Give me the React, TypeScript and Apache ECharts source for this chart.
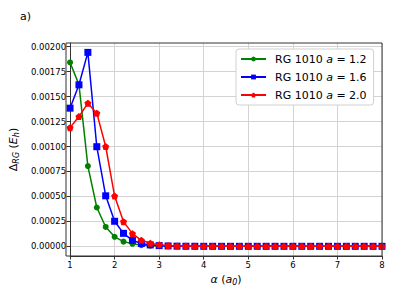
import React, { useEffect, useRef } from "react";
import * as echarts from "echarts";

const alphaValues = [
  1.0, 1.2, 1.4, 1.6, 1.8, 2.0, 2.2, 2.4, 2.6, 2.8, 3.0, 3.2, 3.4, 3.6, 3.8, 4.0, 4.2, 4.4,
  4.6, 4.8, 5.0, 5.2, 5.4, 5.6, 5.8, 6.0, 6.2, 6.4, 6.6, 6.8, 7.0, 7.2, 7.4, 7.6, 7.8, 8.0,
];

const seriesA12 = [
  0.001842, 0.00162, 0.000804, 0.000389, 0.000194, 0.000095, 0.000047, 0.000025, 0.000012,
  0.000006, 0.000003, 0.0000015, 0.0000007, 0.0000003, 0, 0, 0, 0, 0, 0, 0, 0, 0, 0, 0, 0, 0,
  0, 0, 0, 0, 0, 0, 0, 0, 0,
];

const seriesA16 = [
  0.001384, 0.001618, 0.001943, 0.000998, 0.000506, 0.000251, 0.00013, 0.00006, 0.000028,
  0.000014, 0.000007, 0.0000035, 0.0000017, 0.0000008, 0.0000004, 0, 0, 0, 0, 0, 0, 0, 0, 0, 0,
  0, 0, 0, 0, 0, 0, 0, 0, 0, 0, 0,
];

const seriesA20 = [
  0.001189, 0.0013, 0.001434, 0.001334, 0.001, 0.000503, 0.000247, 0.000127, 0.00006,
  0.00003, 0.000015, 0.000008, 0.000004, 0.000002, 0.000001, 0.0000005, 0, 0, 0, 0, 0, 0, 0, 0,
  0, 0, 0, 0, 0, 0, 0, 0, 0, 0, 0, 0,
];

const seriesNames = ["a12", "a16", "a20"];
const legendValues = ["1.2", "1.6", "2.0"];
const yTicks = [0, 0.00025, 0.0005, 0.00075, 0.001, 0.00125, 0.0015, 0.00175, 0.002];
const xTicks = [1, 2, 3, 4, 5, 6, 7, 8];

const FONT = "DejaVu Sans";
const pentagon =
  "path://M0,-1 L0.951,-0.309 L0.588,0.809 L-0.588,0.809 L-0.951,-0.309 Z";

export default function App() {
  const ref = useRef<HTMLDivElement>(null);
  useEffect(() => {
    if (!ref.current) return;
    const chart = echarts.init(ref.current, null, { renderer: "svg" });
    const mk = (vals: number[]) => alphaValues.map((x, i) => [x, vals[i]]);
    const colors = ["#008000", "#0000ff", "#ff0000"];
    const symbols = ["circle", "rect", pentagon];
    const sizes = [6, 7, 7];
    const datas = [seriesA12, seriesA16, seriesA20];
    chart.setOption({
      animation: false,
      textStyle: { fontFamily: FONT },
      grid: { left: 66, right: 12, top: 43, bottom: 40, show: false },
      title: {
        text: "a)",
        left: 20,
        top: 11,
        padding: 0,
        textStyle: { fontFamily: FONT, fontSize: 11, fontWeight: "normal", color: "#000" },
      },
      legend: {
        orient: "vertical",
        left: 236,
        top: 49,
        width: 140,
        padding: [3.5, 7, 3.5, 4],
        itemGap: 5,
        itemWidth: 25,
        itemHeight: 6,
        backgroundColor: "#fff",
        borderColor: "#d0d0d0",
        borderWidth: 1,
        borderRadius: 3,
        data: seriesNames,
        formatter: (name: string) => {
          const i = seriesNames.indexOf(name);
          return "RG 1010 {i|a} = " + legendValues[i];
        },
        textStyle: {
          fontFamily: FONT,
          fontSize: 11,
          lineHeight: 13,
          color: "#000",
          padding: [0, 0, 0, 4],
          rich: {
            i: { fontFamily: FONT, fontSize: 11, lineHeight: 13, fontStyle: "italic", color: "#000" },
          },
        },
      },
      xAxis: {
        type: "value",
        min: 1,
        max: 8,
        interval: 1,
        name: "{g|α} ({i|a}{s|0})",
        nameLocation: "middle",
        nameGap: 17,
        nameTextStyle: {
          fontFamily: FONT,
          fontSize: 11,
          color: "#000",
          rich: {
            g: { fontFamily: FONT, fontSize: 11, fontStyle: "italic", color: "#000" },
            i: { fontFamily: FONT, fontSize: 11, fontStyle: "italic", color: "#000" },
            s: { fontFamily: FONT, fontSize: 8, fontStyle: "italic", color: "#000", padding: [5, 0, 0, 0] },
          },
        },
        axisLine: { show: true, onZero: false, lineStyle: { color: "#333", width: 1 } },
        axisTick: { show: true, length: 3.5, lineStyle: { color: "#333" }, customValues: xTicks },
        axisLabel: {
          fontFamily: FONT,
          fontSize: 8.5,
          color: "#000",
          margin: 4,
          customValues: xTicks,
          formatter: (v: number) => String(v),
        },
        splitLine: { show: true, lineStyle: { color: "#d3d3d3", width: 1 } },
      },
      yAxis: {
        type: "value",
        min: -0.000097,
        max: 0.002037,
        name: "Δ{s|RG} ({i|E}{s|h})",
        nameLocation: "middle",
        nameRotate: 90,
        nameGap: 44,
        nameTextStyle: {
          fontFamily: FONT,
          fontSize: 11,
          color: "#000",
          rich: {
            i: { fontFamily: FONT, fontSize: 11, fontStyle: "italic", color: "#000" },
            s: { fontFamily: FONT, fontSize: 8, fontStyle: "italic", color: "#000", padding: [5, 0, 0, 0] },
          },
        },
        axisLine: { show: true, onZero: false, lineStyle: { color: "#333", width: 1 } },
        axisTick: { show: true, length: 3.5, lineStyle: { color: "#333" }, customValues: yTicks },
        axisLabel: {
          fontFamily: FONT,
          fontSize: 8.5,
          color: "#000",
          margin: 4,
          customValues: yTicks,
          formatter: (v: number) => v.toFixed(5),
        },
        splitLine: { show: true, lineStyle: { color: "#d3d3d3", width: 1 } },
      },
      series: seriesNames.map((n, k) => ({
        name: n,
        type: "line",
        data: mk(datas[k]),
        symbol: symbols[k],
        symbolSize: sizes[k],
        showSymbol: true,
        lineStyle: { color: colors[k], width: 1.5 },
        itemStyle: { color: colors[k] },
        z: 3 + k,
      })),
      graphic: [
        {
          type: "rect",
          shape: { x: 66, y: 43, width: 316, height: 213 },
          style: { fill: "none", stroke: "#333", lineWidth: 1 },
          silent: true,
          z: 10,
        },
      ],
    });
    return () => chart.dispose();
  }, []);
  return <div ref={ref} style={{ width: 394, height: 296, margin: -8 }} />;
}
